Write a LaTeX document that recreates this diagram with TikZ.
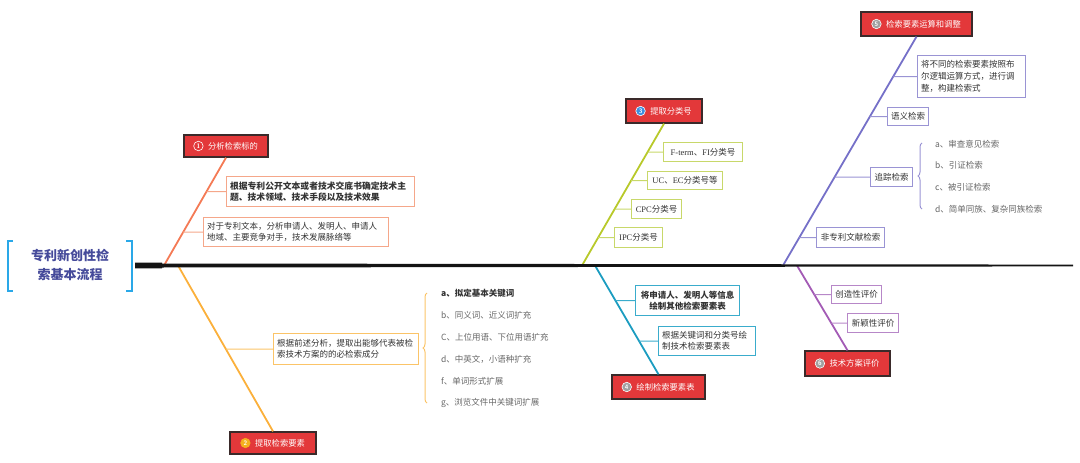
\documentclass[tikz,border=0pt]{standalone}
\usepackage{fontspec}
\newfontfamily\cjk{Noto Sans CJK SC}
\newfontfamily\lser{Liberation Serif}
\usetikzlibrary{calc,decorations.pathreplacing}
\definecolor{hdrred}{HTML}{E3383A}
\definecolor{hdrborder}{HTML}{3A2A2A}
\definecolor{titlec}{HTML}{454A9A}
\definecolor{brk}{HTML}{2AA8E8}
\definecolor{txt}{HTML}{333333}
\definecolor{itemgray}{HTML}{666666}
\definecolor{cA}{HTML}{F47A55}\definecolor{cAb}{HTML}{F5A78A}
\definecolor{cB}{HTML}{FBB03B}\definecolor{cBb}{HTML}{FBC468}
\definecolor{cC}{HTML}{B8C92A}\definecolor{cCb}{HTML}{C8D86A}
\definecolor{cD}{HTML}{1B9CC0}\definecolor{cDb}{HTML}{3AACCC}
\definecolor{cE}{HTML}{7570C8}\definecolor{cEb}{HTML}{9A94D4}
\definecolor{cF}{HTML}{A35BB5}\definecolor{cFb}{HTML}{B787C8}
\definecolor{numO}{HTML}{F5B01E}
\definecolor{numB}{HTML}{3D8FE0}
\definecolor{numG}{HTML}{A0A0A0}
\begin{document}
\begin{tikzpicture}[x=1pt,y=-1pt,
  font=\cjk\fontsize{8.5}{11}\selectfont,
  hdr/.style={draw=hdrborder, fill=hdrred, line width=1.3pt, inner sep=0, anchor=center},
  hdrtxt/.style={text=white, inner sep=0, font=\cjk\fontsize{8.3}{10}\selectfont},
  numc/.style={circle, inner sep=0, minimum size=9.5, draw=white, line width=0.6pt, text=white,
    font=\sffamily\bfseries\fontsize{6.5}{7}\selectfont},
  box/.style={draw, line width=1.1pt, anchor=north west, inner xsep=3.5, inner ysep=1.5, text=txt, fill=white},
  mbox/.style={box, align=left},
  item/.style={anchor=west, inner sep=0, text=itemgray},
  brl/.style={line width=1.8pt},
  cn/.style={line width=1pt},
  brk/.style={draw=brk, line width=2pt},
  bracedeco/.style={decorate, decoration={brace, amplitude=4pt}, line width=1pt}
]
\useasboundingbox (0,0) rectangle (1080,463);

% title
\node[font=\cjk\bfseries\fontsize{13}{19.5}\selectfont, text=titlec, align=center, inner sep=0] (title) at (70,265) {专利新创性检\\索基本流程};
\draw[brk] (13,241) -- (7.5,241) -- (7.5,291) -- (13,291);
\draw[brk] (126,241) -- (131.5,241) -- (131.5,291) -- (126,291);

% spine coordinates
\coordinate (s1) at (164,265.5);
\coordinate (s2) at (178,265.5);
\coordinate (s3) at (582,265.5);
\coordinate (s4) at (595,265.5);
\coordinate (s5) at (783,265.5);
\coordinate (s6) at (797,265.5);

% headers
\node[hdr, minimum width=84, minimum height=22] (h1) at (226,146) {};
\node[hdr, minimum width=86, minimum height=22] (h2) at (273,443) {};
\node[hdr, minimum width=76, minimum height=24] (h3) at (664,111) {};
\node[hdr, minimum width=93, minimum height=24] (h4) at (658.5,387) {};
\node[hdr, minimum width=111, minimum height=24] (h5) at (916.5,24) {};
\node[hdr, minimum width=85, minimum height=25] (h6) at (847.5,363.5) {};

\node[hdrtxt] (t1) at ([xshift=7pt]h1.center) {分析检索标的};
\node[hdrtxt] (t2) at ([xshift=7pt]h2.center) {提取检索要素};
\node[hdrtxt] (t3) at ([xshift=7pt]h3.center) {提取分类号};
\node[hdrtxt] (t4) at ([xshift=7pt]h4.center) {绘制检索要素表};
\node[hdrtxt] (t5) at ([xshift=7pt]h5.center) {检索要素运算和调整};
\node[hdrtxt] (t6) at ([xshift=7pt]h6.center) {技术方案评价};

\node[numc, fill=hdrred] (n1) at ([xshift=-9.5pt]t1.west) {1};
\node[numc, fill=numO, draw=numO] (n2) at ([xshift=-9.5pt]t2.west) {2};
\node[numc, fill=numB] (n3) at ([xshift=-9.5pt]t3.west) {3};
\node[numc, fill=numG] (n4) at ([xshift=-9.5pt]t4.west) {4};
\node[numc, fill=numG] (n5) at ([xshift=-9.5pt]t5.west) {5};
\node[numc, fill=numG] (n6) at ([xshift=-9.5pt]t6.west) {6};

% sub boxes branch 1
\node[mbox, draw=cAb, minimum width=188, minimum height=30, text width=181,
  font=\cjk\bfseries\fontsize{8.8}{11.5}\selectfont] (b1a) at (226,176)
  {根据专利公开文本或者技术交底书确定技术主\\题、技术领域、技术手段以及技术效果};
\node[mbox, draw=cAb, minimum width=185, minimum height=29, text width=178] (b1b) at (203,217)
  {对于专利文本，分析申请人、发明人、申请人\\地域、主要竞争对手，技术发展脉络等};

% branch 2
\node[mbox, draw=cBb, minimum width=145, minimum height=31, text width=138] (b2) at (273,333)
  {根据前述分析，提取出能够代表被检\\索技术方案的的必检索成分};
\coordinate (br2b) at (427,403);
\coordinate (br2t) at (427,293);
\node[item, text=txt, font=\cjk\bfseries\fontsize{8.5}{11}\selectfont] (l2a) at (441,293) {a、拟定基本关键词};
\node[item] (l2b) at (441,315) {b、同义词、近义词扩充};
\node[item] (l2c) at (441,337.5) {C、上位用语、下位用语扩充};
\node[item] (l2d) at (441,359) {d、中英文，小语种扩充};
\node[item] (l2f) at (441,381) {f、单词形式扩展};
\node[item] (l2g) at (441,403) {g、浏览文件中关键词扩展};

% branch 3
\node[box, draw=cCb, minimum width=79, minimum height=19] (b3a) at (663,142) {{\lser F-term}、{\lser FI}分类号};
\node[box, draw=cCb, minimum width=75, minimum height=18] (b3b) at (647,171) {{\lser UC}、{\lser EC}分类号等};
\node[box, draw=cCb, minimum width=50, minimum height=19] (b3c) at (631,199) {{\lser CPC}分类号};
\node[box, draw=cCb, minimum width=48, minimum height=20] (b3d) at (614,227) {{\lser IPC}分类号};

% branch 4
\node[box, draw=cDb, align=center, minimum width=104, minimum height=30,
  font=\cjk\bfseries\fontsize{8.5}{11.5}\selectfont] (b4a) at (635,285) {将申请人、发明人等信息\\绘制其他检索要素表};
\node[mbox, draw=cDb, minimum width=97, minimum height=29, text width=90] (b4b) at (658,326)
  {根据关键词和分类号绘\\制技术检索要素表};

% branch 5
\node[mbox, draw=cEb, minimum width=108, minimum height=42, text width=101,
  font=\cjk\fontsize{8.5}{12.3}\selectfont] (b5a) at (917,55)
  {将不同的检索要素按照布\\尔逻辑运算方式，进行调\\整，构建检索式};
\node[box, draw=cEb, minimum width=41, minimum height=18] (b5b) at (887,107) {语义检索};
\node[box, draw=cEb, minimum width=42, minimum height=19] (b5c) at (870,167) {追踪检索};
\node[box, draw=cEb, minimum width=68, minimum height=20] (b5d) at (816,227) {非专利文献检索};
\coordinate (br5b) at (922,209);
\coordinate (br5t) at (922,143);
\node[item] (l5a) at (935,144) {a、审查意见检索};
\node[item] (l5b) at (935,165.5) {b、引证检索};
\node[item] (l5c) at (935,187) {c、被引证检索};
\node[item] (l5d) at (935,209) {d、简单同族、复杂同族检索};

% branch 6
\node[box, draw=cFb, minimum width=50, minimum height=18] (b6a) at (831,285) {创造性评价};
\node[box, draw=cFb, minimum width=51, minimum height=19] (b6b) at (847,313) {新颖性评价};

% branch lines
\draw[brl, cA] (s1) -- (h1.south);
\draw[brl, cB] (s2) -- (h2.north);
\draw[brl, cC] (s3) -- (h3.south);
\draw[brl, cD] (s4) -- (h4.north);
\draw[brl, cE] (s5) -- (h5.south);
\draw[brl, cF] (s6) -- (h6.north);

% connectors
\draw[cn, cAb] (intersection of s1--h1.south and b1a.west--b1a.east) -- (b1a.west);
\draw[cn, cAb] (intersection of s1--h1.south and b1b.west--b1b.east) -- (b1b.west);
\draw[cn, cBb] (intersection of s2--h2.north and b2.west--b2.east) -- (b2.west);
\draw[cn, cCb] (intersection of s3--h3.south and b3a.west--b3a.east) -- (b3a.west);
\draw[cn, cCb] (intersection of s3--h3.south and b3b.west--b3b.east) -- (b3b.west);
\draw[cn, cCb] (intersection of s3--h3.south and b3c.west--b3c.east) -- (b3c.west);
\draw[cn, cCb] (intersection of s3--h3.south and b3d.west--b3d.east) -- (b3d.west);
\draw[cn, cDb] (intersection of s4--h4.north and b4a.west--b4a.east) -- (b4a.west);
\draw[cn, cDb] (intersection of s4--h4.north and b4b.west--b4b.east) -- (b4b.west);
\draw[cn, cEb] (intersection of s5--h5.south and b5a.west--b5a.east) -- (b5a.west);
\draw[cn, cEb] (intersection of s5--h5.south and b5b.west--b5b.east) -- (b5b.west);
\draw[cn, cEb] (intersection of s5--h5.south and b5c.west--b5c.east) -- (b5c.west);
\draw[cn, cEb] (intersection of s5--h5.south and b5d.west--b5d.east) -- (b5d.west);
\draw[cn, cFb] (intersection of s6--h6.north and b6a.west--b6a.east) -- (b6a.west);
\draw[cn, cFb] (intersection of s6--h6.north and b6b.west--b6b.east) -- (b6b.west);

% braces
\draw[bracedeco, cBb] (br2b) -- (br2t);
\draw[bracedeco, cEb] (br5b) -- (br5t);

% spine
\fill[black!92] (135,262.7) -- (162,262.7) -- (162,263.5) -- (1073,264.6) -- (1073,266.4) -- (162,267.5) -- (162,268.3) -- (135,268.3) -- cycle;
\end{tikzpicture}
\end{document}
